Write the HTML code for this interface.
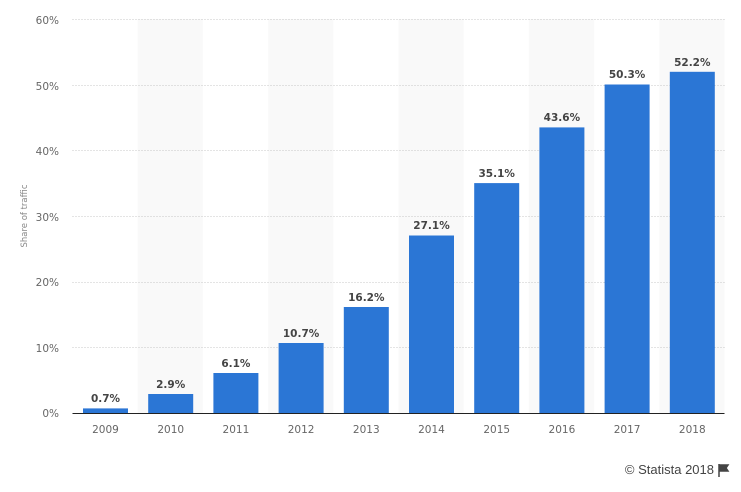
<!DOCTYPE html>
<html><head><style>
html,body{margin:0;padding:0;background:#fff;}
svg{display:block;font-family:"DejaVu Sans","Liberation Sans",sans-serif;}
</style></head><body>
<svg width="741" height="492" viewBox="0 0 741 492" xmlns="http://www.w3.org/2000/svg">
<rect width="741" height="492" fill="#fff"/>
<g fill="#f9f9f9">
<rect x="137.7" y="19" width="65.2" height="394"/>
<rect x="268.1" y="19" width="65.2" height="394"/>
<rect x="398.5" y="19" width="65.2" height="394"/>
<rect x="528.9" y="19" width="65.2" height="394"/>
<rect x="659.3" y="19" width="65.2" height="394"/>
</g>
<g stroke="#c8c8c8" stroke-width="1" stroke-dasharray="1,2">
<line x1="72.5" x2="724.5" y1="19.5" y2="19.5"/>
<line x1="72.5" x2="724.5" y1="85.5" y2="85.5"/>
<line x1="72.5" x2="724.5" y1="150.5" y2="150.5"/>
<line x1="72.5" x2="724.5" y1="216.5" y2="216.5"/>
<line x1="72.5" x2="724.5" y1="282.5" y2="282.5"/>
<line x1="72.5" x2="724.5" y1="347.5" y2="347.5"/>
</g>
<g fill="#666" font-size="10.5" text-anchor="end">
<text x="59" y="24">60%</text>
<text x="59" y="90">50%</text>
<text x="59" y="155">40%</text>
<text x="59" y="221">30%</text>
<text x="59" y="286">20%</text>
<text x="59" y="352">10%</text>
<text x="59" y="417">0%</text>
</g>
<text transform="translate(27,216) rotate(-90)" fill="#888" font-size="8.5" text-anchor="middle">Share of traffic</text>
<g fill="#2b76d5">
<rect x="83" y="408.4" width="45" height="4.6"/>
<rect x="148.2" y="394" width="45" height="19"/>
<rect x="213.4" y="373" width="45" height="40"/>
<rect x="278.6" y="343" width="45" height="70"/>
<rect x="343.8" y="307" width="45" height="106"/>
<rect x="409" y="235.5" width="45" height="177.5"/>
<rect x="474.2" y="183.1" width="45" height="229.9"/>
<rect x="539.4" y="127.4" width="45" height="285.6"/>
<rect x="604.6" y="84.5" width="45" height="328.5"/>
<rect x="669.8" y="71.8" width="45" height="341.2"/>
</g>
<line x1="72.5" x2="724.5" y1="413.5" y2="413.5" stroke="#222" stroke-width="1"/>
<g fill="#444" font-size="10.5" font-weight="bold" text-anchor="middle">
<text x="105.5" y="402">0.7%</text>
<text x="170.7" y="388">2.9%</text>
<text x="235.9" y="367">6.1%</text>
<text x="301.1" y="337">10.7%</text>
<text x="366.3" y="301">16.2%</text>
<text x="431.5" y="229">27.1%</text>
<text x="496.7" y="177">35.1%</text>
<text x="561.9" y="121">43.6%</text>
<text x="627.1" y="78">50.3%</text>
<text x="692.3" y="66">52.2%</text>
</g>
<g fill="#666" font-size="10.5" text-anchor="middle">
<text x="105.5" y="433">2009</text>
<text x="170.7" y="433">2010</text>
<text x="235.9" y="433">2011</text>
<text x="301.1" y="433">2012</text>
<text x="366.3" y="433">2013</text>
<text x="431.5" y="433">2014</text>
<text x="496.7" y="433">2015</text>
<text x="561.9" y="433">2016</text>
<text x="627.1" y="433">2017</text>
<text x="692.3" y="433">2018</text>
</g>
<text x="714" y="474" fill="#444" font-size="13" text-anchor="end" font-family="Liberation Sans, sans-serif">© Statista 2018</text>
<path d="M719 464 v13 M719 465 h9 l-2 3 l2 3 h-9z" stroke="#444" stroke-width="1.5" fill="#444"/>
</svg>
</body></html>
